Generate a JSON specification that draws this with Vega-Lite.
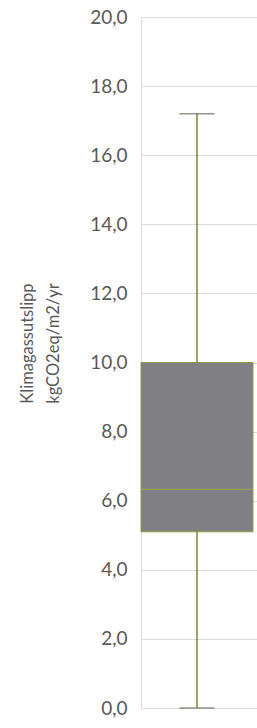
{
  "$schema": "https://vega.github.io/schema/vega-lite/v6.json",
  "width": 116,
  "height": 691,
  "autosize": "none",
  "padding": {"left": 141, "top": 17, "right": 0, "bottom": 20},
  "background": "white",
  "config": {"view": {"stroke": null}, "font": "Lato"},
  "data": {"values": [{"kategori": "Bygg", "min": 0, "q1": 5.1, "median": 6.33, "q3": 10.0, "max": 17.2}]},
  "encoding": {
    "x": {"field": "kategori", "type": "nominal", "axis": null, "scale": {"paddingInner": 0, "paddingOuter": 0.018, "align": 0}}
  },
  "layer": [
    {
      "mark": {"type": "rule", "color": "#778a2a", "strokeWidth": 1.5},
      "encoding": {
        "y": {
          "field": "min", "type": "quantitative",
          "scale": {"domain": [0, 20], "nice": false},
          "axis": {
            "title": ["Klimagassutslipp", "kgCO2eq/m2/yr"],
            "values": [0, 2, 4, 6, 8, 10, 12, 14, 16, 18, 20],
            "labelExpr": "replace(format(datum.value, '.1f'), '.', ',')",
            "ticks": false,
            "labelPadding": 14,
            "labelFontSize": 19,
            "labelColor": "#595959",
            "labelFont": "Lato",
            "domain": true,
            "domainColor": "#d9d9d9",
            "grid": true,
            "gridColor": "#d9d9d9",
            "titleFont": "Lato",
            "titleFontSize": 16.5,
            "titleFontWeight": "normal",
            "titleColor": "#595959",
            "titleAngle": -90,
            "titleX": -122,
            "titleY": 326,
            "titleBaseline": "top",
            "titleAlign": "center",
            "titleLineHeight": 26
          }
        },
        "y2": {"field": "max"}
      }
    },
    {
      "mark": {"type": "bar", "color": "#808084", "stroke": "#8a9a40", "strokeWidth": 1},
      "encoding": {
        "y": {"field": "q1", "type": "quantitative"},
        "y2": {"field": "q3"}
      }
    },
    {
      "mark": {"type": "tick", "color": "#a0b03c", "thickness": 1.2, "size": 112},
      "encoding": {"y": {"field": "median", "type": "quantitative"}}
    },
    {
      "mark": {"type": "tick", "color": "#66665a", "thickness": 1.5, "size": 35},
      "encoding": {"y": {"field": "max", "type": "quantitative"}}
    },
    {
      "mark": {"type": "tick", "color": "#66665a", "thickness": 1.5, "size": 35},
      "encoding": {"y": {"field": "min", "type": "quantitative"}}
    }
  ]
}
